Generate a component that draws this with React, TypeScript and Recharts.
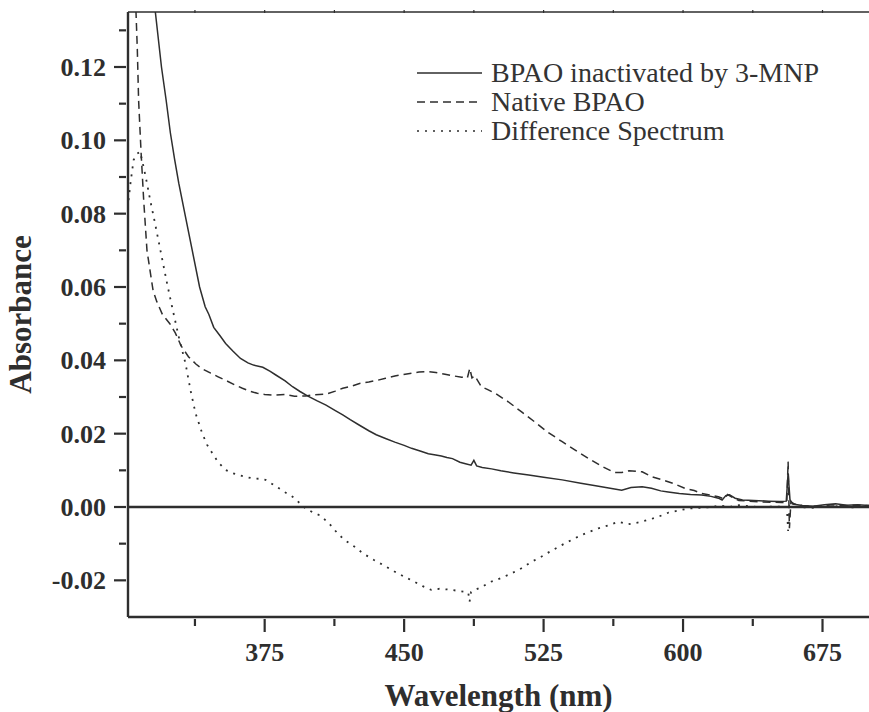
import React from 'react';
import { LineChart, Line, XAxis, YAxis, Legend, ReferenceLine } from 'recharts';

// wavelength (nm) / absorbance pairs
const INACT_NM = [302, 305, 308, 311, 314, 316.2, 319.5, 322, 324.3, 326.5, 328.8, 332.4, 336, 340, 343, 345, 347.6, 351, 354, 358, 362, 366, 369, 374, 378, 381, 386, 390, 394, 398, 403, 408, 413, 417, 421, 426, 431, 435, 440, 445, 450, 454, 459, 463, 467, 470, 473, 476, 480, 483, 486, 487.5, 489, 492, 497, 502, 509, 517, 525, 535, 545, 553, 560, 567, 572, 578, 583, 588, 592, 598, 604, 610, 615, 619, 621, 623, 625, 628, 632, 638, 646, 652, 655.5, 656.5, 657.5, 659, 664, 670, 676, 682, 688, 694, 700];
const INACT_ABS = [0.205, 0.185, 0.167, 0.15, 0.14, 0.135, 0.12, 0.111, 0.102, 0.095, 0.0883, 0.0792, 0.0701, 0.06, 0.0546, 0.0525, 0.049, 0.0467, 0.0446, 0.0425, 0.0405, 0.0393, 0.0387, 0.0381, 0.037, 0.036, 0.0344, 0.0328, 0.0315, 0.0303, 0.029, 0.0278, 0.0263, 0.0251, 0.0238, 0.0223, 0.0208, 0.0197, 0.0187, 0.0177, 0.0168, 0.016, 0.0152, 0.0145, 0.0142, 0.0139, 0.0135, 0.0132, 0.0122, 0.0118, 0.0114, 0.0127, 0.0112, 0.0108, 0.0104, 0.0099, 0.0093, 0.0087, 0.0081, 0.0074, 0.0065, 0.0058, 0.0052, 0.0046, 0.0053, 0.0055, 0.0051, 0.0044, 0.0041, 0.0037, 0.0034, 0.0033, 0.0029, 0.0024, 0.0019, 0.0031, 0.0033, 0.0024, 0.0019, 0.0018, 0.0016, 0.0015, 0.0016, 0.0092, 0.002, 0.0008, 0.0004, 0.0002, 0.0006, 0.0009, 0.0005, 0.0006, 0.0004];

const NATIVE_NM = [302, 304, 305.8, 306.5, 307.2, 308.5, 309.9, 311.7, 313.5, 315, 317, 320, 324, 327, 330, 334, 338, 341, 346, 350, 355, 359, 363, 367, 371, 375, 380, 386, 391, 397, 402, 408, 413, 417, 422, 426, 431, 436, 440, 445, 449, 454, 458, 463, 467, 472, 476, 481, 484, 485.3, 486.5, 488, 491.5, 495, 499, 506, 513, 520, 527, 535, 542, 549, 556, 563, 567, 571, 575, 578, 583, 589, 595, 601, 606, 610, 615, 619, 622, 624, 627, 630, 635, 642, 648, 653, 655.8, 656.5, 657.2, 658, 660, 665, 672, 680, 688, 695, 700];
const NATIVE_ABS = [0.21, 0.17, 0.135, 0.125, 0.111, 0.097, 0.084, 0.07, 0.064, 0.059, 0.056, 0.0525, 0.05, 0.0474, 0.044, 0.041, 0.039, 0.0378, 0.0365, 0.0355, 0.0343, 0.0333, 0.0324, 0.0316, 0.031, 0.0307, 0.0305, 0.0307, 0.0302, 0.0303, 0.0306, 0.0308, 0.0316, 0.0324, 0.033, 0.0337, 0.0341, 0.0346, 0.0351, 0.0357, 0.0361, 0.0365, 0.0368, 0.0369, 0.0367, 0.0362, 0.0358, 0.0354, 0.0352, 0.0378, 0.0352, 0.0358, 0.0328, 0.032, 0.031, 0.0287, 0.026, 0.0233, 0.0205, 0.0178, 0.0155, 0.0133, 0.0112, 0.0094, 0.0094, 0.0099, 0.0097, 0.0096, 0.0083, 0.0074, 0.0064, 0.0051, 0.0045, 0.0037, 0.0032, 0.0028, 0.0022, 0.0034, 0.0025, 0.0018, 0.0016, 0.0014, 0.0013, 0.0012, 0.0012, 0.0124, -0.0058, 0.0014, 0.0008, 0.0003, 0.0002, 0.0006, 0.0004, 0.0005, 0.0004];

const DIFF_NM = [301.8, 303, 304.5, 306, 308, 310, 311.7, 313.5, 315.3, 318.9, 322.5, 325.2, 328.8, 332.4, 335.1, 337.8, 341.4, 344, 346.8, 350, 354, 358, 361, 365, 368.4, 372, 375.5, 379, 382.7, 386, 390, 394, 397, 401, 405.2, 410, 414.2, 418, 423.2, 428, 434, 440, 444.8, 450, 455.6, 460, 464.6, 469, 473.6, 478, 482.5, 484.5, 485.2, 486, 488, 491.5, 496, 500.5, 507, 513.1, 518, 523.9, 529, 534.7, 540, 545.5, 550, 554.5, 560, 565.3, 570.7, 576, 581.5, 587, 592.3, 598, 603.1, 610, 615.7, 620, 625, 630, 640, 650, 655.8, 656.5, 657.3, 660, 670, 680, 690, 700];
const DIFF_ABS = [0.0837, 0.089, 0.0946, 0.0962, 0.0969, 0.0925, 0.0883, 0.0835, 0.0792, 0.0701, 0.061, 0.0546, 0.0464, 0.0392, 0.0319, 0.0256, 0.0201, 0.017, 0.0147, 0.0122, 0.0101, 0.0092, 0.0087, 0.0082, 0.0078, 0.0077, 0.0074, 0.0063, 0.0051, 0.004, 0.0028, 0.001, -0.0004, -0.0015, -0.0024, -0.0047, -0.0072, -0.009, -0.0108, -0.0127, -0.0145, -0.0162, -0.0176, -0.019, -0.0204, -0.0216, -0.0226, -0.0223, -0.0225, -0.0228, -0.0231, -0.0234, -0.0258, -0.0232, -0.0226, -0.0219, -0.0205, -0.0197, -0.0183, -0.0167, -0.0151, -0.0135, -0.012, -0.0104, -0.009, -0.0076, -0.0067, -0.0058, -0.005, -0.004, -0.0047, -0.0042, -0.0035, -0.0026, -0.0015, -0.0009, -0.0004, -0.0002, 0, 0.0004, 0, 0.0005, 0, 0.0001, 0, -0.0065, 0.0003, 0, -0.0002, 0.0003, -0.0001, 0];

const X_MAJOR = [375, 450, 525, 600, 675];
const X_MINOR = [337.5, 412.5, 487.5, 562.5, 637.5];
const Y_MAJOR = [-0.02, 0, 0.02, 0.04, 0.06, 0.08, 0.1, 0.12];
const Y_MINOR = [-0.01, 0.01, 0.03, 0.05, 0.07, 0.09, 0.11, 0.13];

const SERIES_NAMES = ['BPAO inactivated by 3-MNP', 'Native BPAO', 'Difference Spectrum'];

const INK = '#2e2e2e';
const FONT = '"Liberation Serif", "Times New Roman", serif';
const DASHES = ['', '8 5', '2 6'];

const toPoints = (nm: number[], abs: number[]) => nm.map((w, i) => ({ nm: w, a: abs[i] }));

const inactivated = toPoints(INACT_NM, INACT_ABS);
const native = toPoints(NATIVE_NM, NATIVE_ABS);
const difference = toPoints(DIFF_NM, DIFF_ABS);

const xTicks = [...X_MINOR, ...X_MAJOR].sort((a, b) => a - b);
const yTicks = [...Y_MINOR, ...Y_MAJOR].sort((a, b) => a - b);

const BottomTick = (props: any) => {
  const { x, y, payload } = props;
  const major = X_MAJOR.includes(payload.value);
  return (
    <g>
      <line x1={x} x2={x} y1={y} y2={y + (major ? 13 : 7)} stroke={INK} strokeWidth={2.2} />
      {major && (
        <text x={x} y={y + 42} textAnchor="middle" fontFamily={FONT} fontWeight="bold" fontSize={26} fill={INK}>
          {payload.value}
        </text>
      )}
    </g>
  );
};

const TopTick = (props: any) => {
  const { x, y } = props;
  return <line x1={x} x2={x} y1={y} y2={y + 3} stroke={INK} strokeWidth={1.2} />;
};

const LeftTick = (props: any) => {
  const { x, y, payload } = props;
  const major = Y_MAJOR.some((v) => Math.abs(v - payload.value) < 1e-9);
  return (
    <g>
      <line x1={x - (major ? 12 : 7)} x2={x} y1={y} y2={y} stroke={INK} strokeWidth={2.2} />
      {major && (
        <text x={x - 20} y={y} dy="0.34em" textAnchor="end" fontFamily={FONT} fontWeight="bold" fontSize={26} fill={INK}>
          {payload.value.toFixed(2)}
        </text>
      )}
    </g>
  );
};

const renderLegend = () => (
  <div style={{ fontFamily: FONT, fontSize: 28, color: '#333' }}>
    {SERIES_NAMES.map((name, i) => (
      <div key={name} style={{ display: 'flex', alignItems: 'center', height: 29, whiteSpace: 'nowrap' }}>
        <svg width={65} height={10} style={{ marginRight: 9 }}>
          <line x1={0} x2={65} y1={5} y2={5} stroke={INK} strokeWidth={1.4} strokeDasharray={DASHES[i]} />
        </svg>
        <span style={{ lineHeight: '29px' }}>{name}</span>
      </div>
    ))}
  </div>
);

export default function App() {
  return (
    <div style={{ position: 'absolute', left: 0, top: 0, width: 869, height: 712, background: '#fff' }}>
      <LineChart width={869} height={712} margin={{ top: 0, right: 0, bottom: 0, left: 0 }}>
        <XAxis
          dataKey="nm"
          type="number"
          domain={[301.5, 700]}
          allowDataOverflow
          ticks={xTicks}
          interval={0}
          tickSize={0}
          tickLine={false}
          tick={<BottomTick />}
          height={95}
          axisLine={{ stroke: INK, strokeWidth: 2.4 }}
          label={{ value: 'Wavelength (nm)', position: 'insideBottom', offset: 6, style: { fontFamily: FONT, fontWeight: 'bold', fontSize: 31, fill: INK } }}
        />
        <XAxis
          xAxisId="top"
          orientation="top"
          dataKey="nm"
          type="number"
          domain={[301.5, 700]}
          allowDataOverflow
          ticks={xTicks}
          interval={0}
          tickSize={0}
          tickLine={false}
          tick={<TopTick />}
          height={12}
          axisLine={{ stroke: INK, strokeWidth: 1.5 }}
        />
        <YAxis
          type="number"
          domain={[-0.03, 0.135]}
          allowDataOverflow
          ticks={yTicks}
          interval={0}
          tickSize={0}
          tickLine={false}
          tick={<LeftTick />}
          width={128}
          axisLine={{ stroke: INK, strokeWidth: 2.4 }}
          label={{ value: 'Absorbance', angle: -90, position: 'insideLeft', offset: 20, style: { textAnchor: 'middle', fontFamily: FONT, fontWeight: 'bold', fontSize: 31, fill: INK } }}
        />
        <ReferenceLine y={0} stroke={INK} strokeWidth={2.4} />
        <Line data={inactivated} dataKey="a" name={SERIES_NAMES[0]} type="linear" stroke={INK} strokeWidth={1.5} dot={false} isAnimationActive={false} />
        <Line data={native} dataKey="a" name={SERIES_NAMES[1]} type="linear" stroke={INK} strokeWidth={1.5} strokeDasharray={DASHES[1]} dot={false} isAnimationActive={false} />
        <Line data={difference} dataKey="a" name={SERIES_NAMES[2]} type="linear" stroke={INK} strokeWidth={1.8} strokeDasharray={DASHES[2]} dot={false} isAnimationActive={false} />
        <Legend
          layout="horizontal"
          verticalAlign="middle"
          align="center"
          content={renderLegend}
          wrapperStyle={{ top: 58, left: 417, width: 450 }}
        />
      </LineChart>
    </div>
  );
}
